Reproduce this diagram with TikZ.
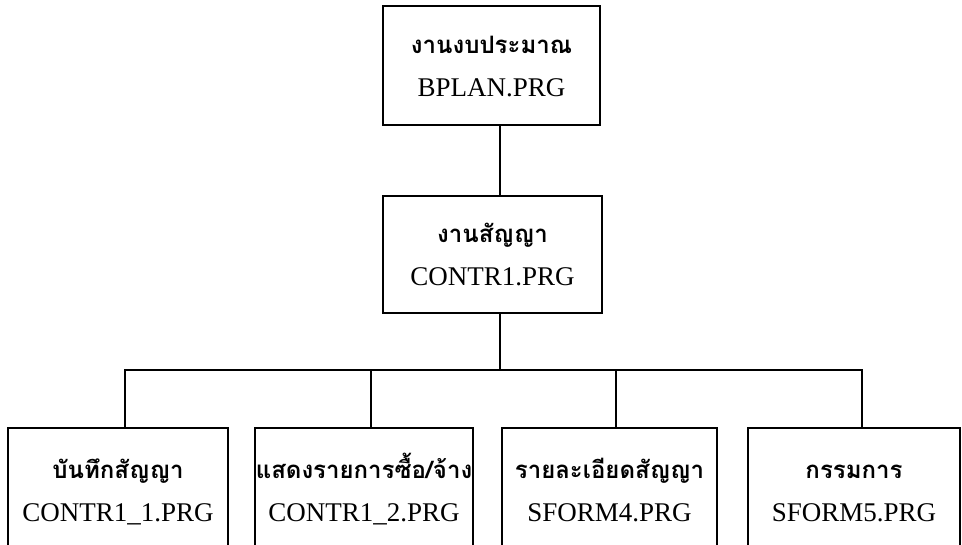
\documentclass[tikz,border=0pt]{standalone}
\usepackage{fontspec}
\setmainfont{Liberation Serif}
\newfontfamily\thaifont[Script=Thai]{Loma}
\newcommand\mystrut{\rule[-7pt]{0pt}{33pt}}
\newcommand\thline[1]{\mystrut{\thaifont\bfseries\fontsize{24}{43}\selectfont #1}}
\newcommand\enline[1]{\mystrut #1}
\begin{document}
\begin{tikzpicture}[x=1pt,y=-1pt,
  box/.style={draw,line width=2.2pt,rectangle,inner sep=0pt,align=center,
    font=\fontsize{27}{43}\selectfont}]
\useasboundingbox (0,0) rectangle (962,544);
\clip (0,0) rectangle (962,544);
\node[box,minimum width=217pt,minimum height=119pt] (top) at (491.5,65.5)
  {\thline{งานงบประมาณ}\\\enline{BPLAN.PRG}};
\node[box,minimum width=219pt,minimum height=117pt] (mid) at (492.5,254.5)
  {\thline{งานสัญญา}\\\enline{CONTR1.PRG}};
\node[box,minimum width=220pt,minimum height=124pt] (b1) at (118,490)
  {\thline{บันทึกสัญญา}\\\enline{CONTR1\_1.PRG}};
\node[box,minimum width=218pt,minimum height=124pt] (b2) at (364,490)
  {\thline{แสดงรายการซื้อ/จ้าง}\\\enline{CONTR1\_2.PRG}};
\node[box,minimum width=215pt,minimum height=124pt] (b3) at (609.5,490)
  {\thline{รายละเอียดสัญญา}\\\enline{SFORM4.PRG}};
\node[box,minimum width=212pt,minimum height=124pt] (b4) at (854,490)
  {\thline{กรรมการ}\\\enline{SFORM5.PRG}};
\coordinate (trunk) at (500,0);
\coordinate (busL) at (125,370);
\coordinate (busR) at (862,370);
\coordinate (j2) at (371,370);
\coordinate (j3) at (616,370);
\coordinate (jm) at (500,370);
\begin{scope}[line width=2.2pt]
\draw (top.south -| trunk) -- (mid.north -| trunk);
\draw (mid.south -| trunk) -- (jm);
\draw (b1.north -| busL) -- (busL) -- (busR) -- (b4.north -| busR);
\draw (j2) -- (b2.north -| j2);
\draw (j3) -- (b3.north -| j3);
\end{scope}
\end{tikzpicture}
\end{document}
